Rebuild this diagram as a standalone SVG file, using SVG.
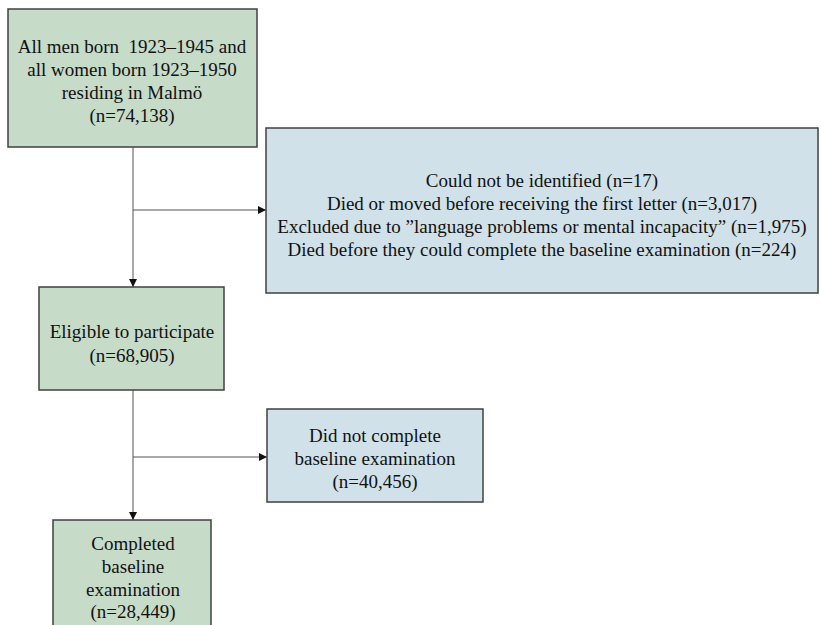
<svg xmlns="http://www.w3.org/2000/svg" width="821" height="625" viewBox="0 0 821 625">
<style>
.g{fill:#c7dbc9;stroke:#404040;stroke-width:1.5}
.b{fill:#d0e1e9;stroke:#404040;stroke-width:1.5}
text{font-family:"Liberation Serif","Times New Roman",serif;font-size:19px;fill:#111;text-anchor:middle;white-space:pre}
.c{stroke:#555;stroke-width:1;fill:none}
</style>
<defs>
<marker id="ah" viewBox="0 0 10 10" refX="10" refY="5" markerWidth="8" markerHeight="8" markerUnits="userSpaceOnUse" orient="auto">
<path d="M0,0 L10,5 L0,10 z" fill="#111"/>
</marker>
</defs>
<rect width="821" height="625" fill="#fff"/>
<g id="connectors">
<line class="c" x1="133" y1="147" x2="133" y2="287" marker-end="url(#ah)"/>
<line class="c" x1="133" y1="210" x2="266" y2="210" marker-end="url(#ah)"/>
<line class="c" x1="133" y1="390" x2="133" y2="520" marker-end="url(#ah)"/>
<line class="c" x1="133" y1="457" x2="267" y2="457" marker-end="url(#ah)"/>
</g>
<g id="n1">
<rect class="g" x="8" y="9" width="249" height="138"/>
<text x="132" y="53" xml:space="preserve">All men born  1923–1945 and</text>
<text x="132" y="76">all women born 1923–1950</text>
<text x="132" y="99">residing in Malmö</text>
<text x="132" y="122">(n=74,138)</text>
</g>
<g id="n2">
<rect class="b" x="266" y="128" width="552" height="165"/>
<text x="542" y="187">Could not be identified (n=17)</text>
<text x="542" y="210">Died or moved before receiving the first letter (n=3,017)</text>
<text x="542" y="233">Excluded due to ”language problems or mental incapacity” (n=1,975)</text>
<text x="542" y="256">Died before they could complete the baseline examination (n=224)</text>
</g>
<g id="n3">
<rect class="g" x="39" y="287" width="185" height="103"/>
<text x="132" y="338">Eligible to participate</text>
<text x="132" y="362">(n=68,905)</text>
</g>
<g id="n4">
<rect class="b" x="267" y="409" width="216" height="93"/>
<text x="375" y="442">Did not complete</text>
<text x="375" y="465">baseline examination</text>
<text x="375" y="488">(n=40,456)</text>
</g>
<g id="n5">
<rect class="g" x="53" y="520" width="158" height="120"/>
<text x="133" y="550">Completed</text>
<text x="133" y="573">baseline</text>
<text x="133" y="596">examination</text>
<text x="133" y="618">(n=28,449)</text>
</g>
</svg>
